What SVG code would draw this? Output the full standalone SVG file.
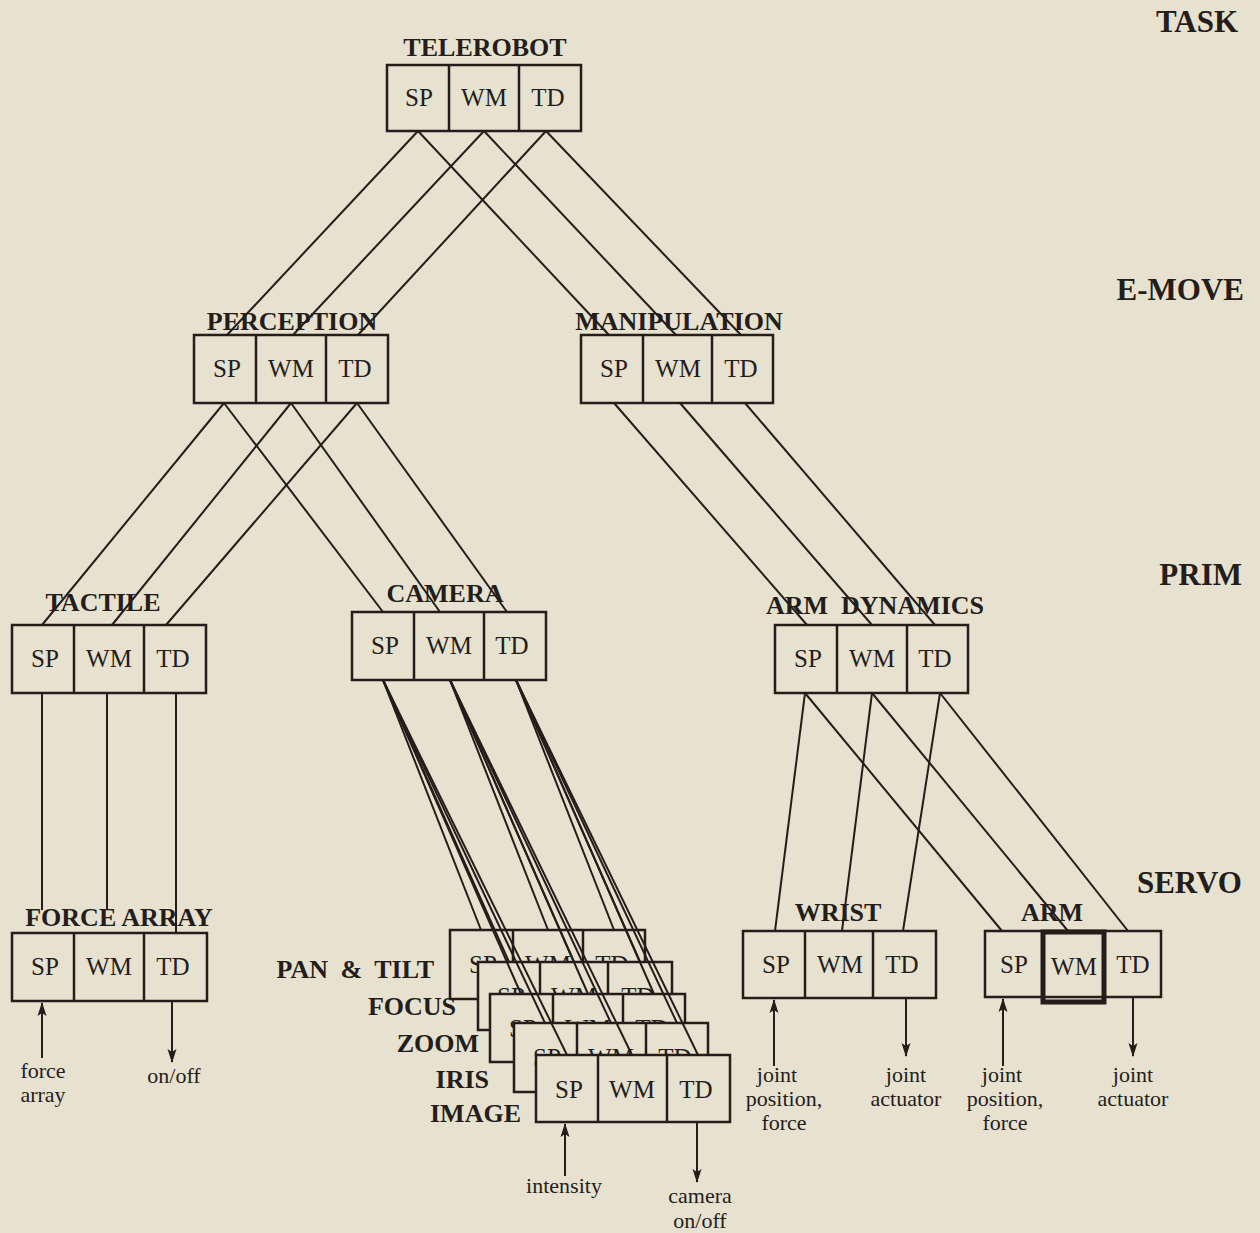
<svg xmlns="http://www.w3.org/2000/svg" width="1260" height="1233" viewBox="0 0 1260 1233">
<defs>
<style>
.bg{fill:#e7e1cf}
.box{fill:#e7e1cf;stroke:#241d1a;stroke-width:2.5}
.div{stroke:#241d1a;stroke-width:2.5}
.cell{font-family:"Liberation Serif",serif;font-size:25px;fill:#241d1a;text-anchor:middle}
.lbl{font-family:"Liberation Serif",serif;font-size:26px;font-weight:bold;fill:#241d1a;text-anchor:middle}
.lvl{font-family:"Liberation Serif",serif;font-size:31px;font-weight:bold;fill:#241d1a;text-anchor:end}
.stk{font-family:"Liberation Serif",serif;font-size:26px;font-weight:bold;fill:#241d1a;text-anchor:end}
.sub{font-family:"Liberation Serif",serif;font-size:22px;fill:#241d1a;text-anchor:middle}
.ln{stroke:#241d1a;stroke-width:2;fill:none}
.ar{stroke:#241d1a;stroke-width:2;fill:none;marker-end:url(#ah)}
</style>
<marker id="ah" viewBox="0 0 14 10" refX="13" refY="5" markerWidth="14" markerHeight="10" markerUnits="userSpaceOnUse" orient="auto">
<path d="M0,0.5 L14,5 L0,9.5 L3,5 z" fill="#241d1a"/>
</marker>
</defs>
<rect class="bg" x="0" y="0" width="1260" height="1233"/>

<g id="levels">
<text class="lvl" x="1238" y="32">TASK</text>
<text class="lvl" x="1244" y="300">E-MOVE</text>
<text class="lvl" x="1242" y="585">PRIM</text>
<text class="lvl" x="1242" y="893">SERVO</text>
</g>

<g id="telerobot">
<rect class="box" x="387" y="65" width="194" height="66"/>
<line class="div" x1="449" y1="65" x2="449" y2="131"/><line class="div" x1="519" y1="65" x2="519" y2="131"/>
<text class="cell" x="419" y="106">SP</text><text class="cell" x="484" y="106">WM</text><text class="cell" x="548" y="106">TD</text>
<text class="lbl" x="485" y="56">TELEROBOT</text>
</g>

<g id="perception">
<rect class="box" x="194" y="335" width="194" height="68"/>
<line class="div" x1="256" y1="335" x2="256" y2="403"/><line class="div" x1="326" y1="335" x2="326" y2="403"/>
<text class="cell" x="227" y="377">SP</text><text class="cell" x="291" y="377">WM</text><text class="cell" x="355" y="377">TD</text>
</g>

<g id="manipulation">
<rect class="box" x="581" y="335" width="192" height="68"/>
<line class="div" x1="643" y1="335" x2="643" y2="403"/><line class="div" x1="712" y1="335" x2="712" y2="403"/>
<text class="cell" x="614" y="377">SP</text><text class="cell" x="678" y="377">WM</text><text class="cell" x="741" y="377">TD</text>
</g>

<g id="tactile">
<rect class="box" x="12" y="625" width="194" height="68"/>
<line class="div" x1="74" y1="625" x2="74" y2="693"/><line class="div" x1="144" y1="625" x2="144" y2="693"/>
<text class="cell" x="45" y="667">SP</text><text class="cell" x="109" y="667">WM</text><text class="cell" x="173" y="667">TD</text>
</g>

<g id="camera">
<rect class="box" x="352" y="612" width="194" height="68"/>
<line class="div" x1="414" y1="612" x2="414" y2="680"/><line class="div" x1="484" y1="612" x2="484" y2="680"/>
<text class="cell" x="385" y="654">SP</text><text class="cell" x="449" y="654">WM</text><text class="cell" x="512" y="654">TD</text>
</g>

<g id="arm-dynamics">
<rect class="box" x="775" y="625" width="193" height="68"/>
<line class="div" x1="837" y1="625" x2="837" y2="693"/><line class="div" x1="907" y1="625" x2="907" y2="693"/>
<text class="cell" x="808" y="667">SP</text><text class="cell" x="872" y="667">WM</text><text class="cell" x="935" y="667">TD</text>
</g>

<g id="force-array">
<rect class="box" x="12" y="933" width="195" height="68"/>
<line class="div" x1="74" y1="933" x2="74" y2="1001"/><line class="div" x1="144" y1="933" x2="144" y2="1001"/>
<text class="cell" x="45" y="975">SP</text><text class="cell" x="109" y="975">WM</text><text class="cell" x="173" y="975">TD</text>
</g>

<g id="wrist">
<rect class="box" x="743" y="931" width="193" height="67"/>
<line class="div" x1="805" y1="931" x2="805" y2="998"/><line class="div" x1="873" y1="931" x2="873" y2="998"/>
<text class="cell" x="776" y="973">SP</text><text class="cell" x="840" y="973">WM</text><text class="cell" x="902" y="973">TD</text>
</g>

<g id="arm">
<rect class="box" x="985" y="931" width="176" height="66"/>
<line class="div" x1="1104" y1="931" x2="1104" y2="997"/>
<rect x="1043" y="932" width="61" height="70" fill="none" stroke="#241d1a" stroke-width="5"/>
<text class="cell" x="1014" y="973">SP</text><text class="cell" x="1074" y="975">WM</text><text class="cell" x="1133" y="973">TD</text>
</g>

<g id="cam-pan-tilt">
<rect class="box" x="450" y="930" width="195" height="69"/>
<line class="div" x1="513" y1="930" x2="513" y2="999"/><line class="div" x1="583" y1="930" x2="583" y2="999"/>
<text class="cell" x="483" y="973">SP</text><text class="cell" x="548" y="973">WM</text><text class="cell" x="612" y="973">TD</text>
</g>
<g id="cam-focus">
<rect class="box" x="478" y="962" width="194" height="68"/>
<line class="div" x1="540" y1="962" x2="540" y2="1030"/><line class="div" x1="608" y1="962" x2="608" y2="1030"/>
<text class="cell" x="511" y="1005">SP</text><text class="cell" x="574" y="1005">WM</text><text class="cell" x="638" y="1005">TD</text>
</g>
<g id="cam-zoom">
<rect class="box" x="490" y="994" width="195" height="68"/>
<line class="div" x1="553" y1="994" x2="553" y2="1062"/><line class="div" x1="623" y1="994" x2="623" y2="1062"/>
<text class="cell" x="523" y="1037">SP</text><text class="cell" x="588" y="1037">WM</text><text class="cell" x="652" y="1037">TD</text>
</g>
<g id="cam-iris">
<rect class="box" x="514" y="1023" width="194" height="69"/>
<line class="div" x1="577" y1="1023" x2="577" y2="1092"/><line class="div" x1="646" y1="1023" x2="646" y2="1092"/>
<text class="cell" x="547" y="1066">SP</text><text class="cell" x="611" y="1066">WM</text><text class="cell" x="675" y="1066">TD</text>
</g>
<g id="cam-image">
<rect class="box" x="536" y="1055" width="194" height="67"/>
<line class="div" x1="598" y1="1055" x2="598" y2="1122"/><line class="div" x1="667" y1="1055" x2="667" y2="1122"/>
<text class="cell" x="569" y="1098">SP</text><text class="cell" x="632" y="1098">WM</text><text class="cell" x="696" y="1098">TD</text>
</g>

<g id="connectors">
<line class="ln" x1="418" y1="131" x2="227" y2="335"/><line class="ln" x1="418" y1="131" x2="609" y2="335"/>
<line class="ln" x1="484" y1="131" x2="293" y2="335"/><line class="ln" x1="484" y1="131" x2="676" y2="335"/>
<line class="ln" x1="546" y1="131" x2="358" y2="335"/><line class="ln" x1="546" y1="131" x2="741" y2="335"/>

<line class="ln" x1="224" y1="403" x2="42" y2="625"/><line class="ln" x1="224" y1="403" x2="383" y2="612"/>
<line class="ln" x1="291" y1="403" x2="112" y2="625"/><line class="ln" x1="291" y1="403" x2="440" y2="612"/>
<line class="ln" x1="357" y1="403" x2="166" y2="625"/><line class="ln" x1="357" y1="403" x2="507" y2="612"/>

<line class="ln" x1="614" y1="403" x2="807" y2="625"/>
<line class="ln" x1="680" y1="403" x2="872" y2="625"/>
<line class="ln" x1="745" y1="403" x2="935" y2="625"/>

<line class="ln" x1="805" y1="693" x2="775" y2="931"/><line class="ln" x1="805" y1="693" x2="1002" y2="931"/>
<line class="ln" x1="872" y1="693" x2="842" y2="931"/><line class="ln" x1="872" y1="693" x2="1068" y2="931"/>
<line class="ln" x1="940" y1="693" x2="903" y2="931"/><line class="ln" x1="940" y1="693" x2="1128" y2="931"/>

<line class="ln" x1="42" y1="693" x2="42" y2="910"/>
<line class="ln" x1="107" y1="693" x2="107" y2="910"/>
<line class="ln" x1="176" y1="693" x2="176" y2="933"/>

<line class="ln" x1="383" y1="680" x2="481" y2="930"/><line class="ln" x1="383" y1="680" x2="509" y2="962"/><line class="ln" x1="383" y1="680" x2="521" y2="994"/><line class="ln" x1="383" y1="680" x2="545" y2="1023"/><line class="ln" x1="383" y1="680" x2="567" y2="1055"/>
<line class="ln" x1="450" y1="680" x2="548" y2="930"/><line class="ln" x1="450" y1="680" x2="574" y2="962"/><line class="ln" x1="450" y1="680" x2="588" y2="994"/><line class="ln" x1="450" y1="680" x2="611" y2="1023"/><line class="ln" x1="450" y1="680" x2="632" y2="1055"/>
<line class="ln" x1="516" y1="680" x2="614" y2="930"/><line class="ln" x1="516" y1="680" x2="640" y2="962"/><line class="ln" x1="516" y1="680" x2="654" y2="994"/><line class="ln" x1="516" y1="680" x2="677" y2="1023"/><line class="ln" x1="516" y1="680" x2="698" y2="1055"/>

<line class="ar" x1="42" y1="1058" x2="42" y2="1003"/>
<line class="ar" x1="172" y1="1001" x2="172" y2="1062"/>
<line class="ar" x1="565" y1="1176" x2="565" y2="1124"/>
<line class="ar" x1="697" y1="1122" x2="697" y2="1182"/>
<line class="ar" x1="774" y1="1066" x2="774" y2="1000"/>
<line class="ar" x1="906" y1="998" x2="906" y2="1056"/>
<line class="ar" x1="1003" y1="1066" x2="1003" y2="999"/>
<line class="ar" x1="1133" y1="997" x2="1133" y2="1056"/>
</g>

<g id="labels">
<text class="lbl" x="292" y="330">PERCEPTION</text>
<text class="lbl" x="679" y="330">MANIPULATION</text>
<text class="lbl" x="103" y="611">TACTILE</text>
<text class="lbl" x="445" y="602">CAMERA</text>
<text class="lbl" x="875" y="614" xml:space="preserve">ARM  DYNAMICS</text>
<text class="lbl" x="119" y="926">FORCE ARRAY</text>
<text class="lbl" x="838" y="921">WRIST</text>
<text class="lbl" x="1052" y="921">ARM</text>
<text class="stk" x="434" y="978" word-spacing="6">PAN &amp; TILT</text>
<text class="stk" x="456" y="1015">FOCUS</text>
<text class="stk" x="479" y="1052">ZOOM</text>
<text class="stk" x="489" y="1088">IRIS</text>
<text class="stk" x="521" y="1122">IMAGE</text>
</g>

<g id="io-labels">
<text class="sub" x="43" y="1078">force</text><text class="sub" x="43" y="1102">array</text>
<text class="sub" x="174" y="1083">on/off</text>
<text class="sub" x="564" y="1193">intensity</text>
<text class="sub" x="700" y="1203">camera</text><text class="sub" x="700" y="1228">on/off</text>
<text class="sub" x="777" y="1082">joint</text><text class="sub" x="784" y="1106">position,</text><text class="sub" x="784" y="1130">force</text>
<text class="sub" x="906" y="1082">joint</text><text class="sub" x="906" y="1106">actuator</text>
<text class="sub" x="1002" y="1082">joint</text><text class="sub" x="1005" y="1106">position,</text><text class="sub" x="1005" y="1130">force</text>
<text class="sub" x="1133" y="1082">joint</text><text class="sub" x="1133" y="1106">actuator</text>
</g>
</svg>
